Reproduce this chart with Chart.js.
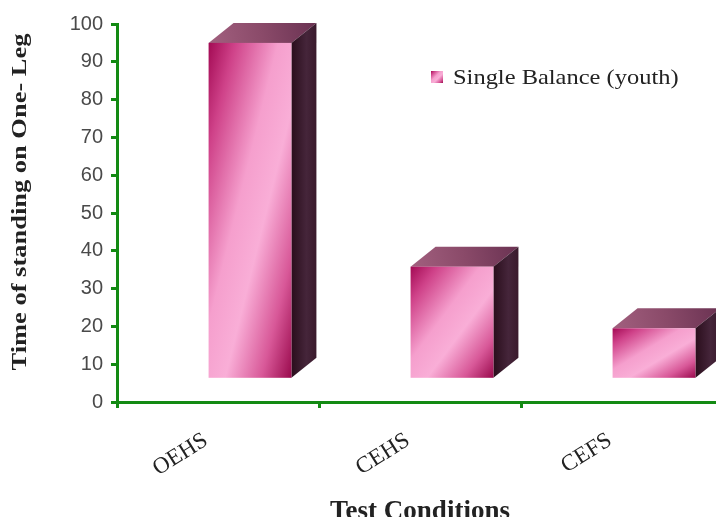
<!DOCTYPE html>
<html>
<head>
<meta charset="utf-8">
<script src="https://cdn.jsdelivr.net/npm/chart.js@4.4.0/dist/chart.umd.min.js"></script>
<style>
  html, body { margin: 0; padding: 0; background: #fff; overflow: hidden; }
  #wrap { width: 716px; height: 517px; overflow: hidden; position: relative; }
  #chart { position: absolute; left: 0; top: 0; }
</style>
</head>
<body>
<div id="wrap"><canvas id="chart" width="740" height="528"></canvas></div>
<script>
// test conditions and one-leg standing time
const conditions = ['OEHS', 'CEHS', 'CEFS'];
const standingTime = [95, 35.8, 19.5];
const seriesName = 'Single Balance (youth)';
const yTickValues = [0, 10, 20, 30, 40, 50, 60, 70, 80, 90, 100];
const yTitle = 'Time of standing on One- Leg';

// bars sit on a raised floor (3d look)
const floorLevel = 6.4;

const axisGreen = '#138a13';
const serif = '"Liberation Serif", "Times New Roman", serif';
const DEPTH_X = 25;
const DEPTH_Y = 20;
const FRONT_SHIFT = 32;

function frontGradient(ctx) {
  const g = ctx.createLinearGradient(0, 0, 1, 1);
  g.addColorStop(0, '#a30a54');
  g.addColorStop(0.16, '#cf4289');
  g.addColorStop(0.42, '#f59fcd');
  g.addColorStop(0.6, '#f9aed7');
  g.addColorStop(0.82, '#d85898');
  g.addColorStop(1, '#9a0a4d');
  return g;
}

// text drawn slightly widened, like the old office-style fonts
function wideText(ctx, text, x, y, font, stretch, angle, align) {
  ctx.save();
  ctx.translate(x, y);
  ctx.rotate(angle);
  ctx.scale(stretch, 1);
  ctx.font = font;
  ctx.fillStyle = '#222';
  ctx.textAlign = align;
  ctx.textBaseline = 'middle';
  ctx.fillText(text, 0, 0);
  ctx.restore();
}

// draws each bar as a block: front face, top and right side
const blocks3d = {
  id: 'blocks3d',
  afterDatasetsDraw(chart) {
    const ctx = chart.ctx;
    chart.getDatasetMeta(0).data.forEach(bar => {
      const { x, y, base, width } = bar.getProps(['x', 'y', 'base', 'width'], true);
      const left = x - width / 2 + FRONT_SHIFT;
      const right = left + width;
      const h = base - y;
      ctx.save();

      // top face
      let g = ctx.createLinearGradient(left, y, right + DEPTH_X, y - DEPTH_Y);
      g.addColorStop(0, '#a2607f');
      g.addColorStop(0.5, '#8a4a69');
      g.addColorStop(1, '#6a3252');
      ctx.fillStyle = g;
      ctx.beginPath();
      ctx.moveTo(left, y);
      ctx.lineTo(left + DEPTH_X, y - DEPTH_Y);
      ctx.lineTo(right + DEPTH_X, y - DEPTH_Y);
      ctx.lineTo(right, y);
      ctx.closePath();
      ctx.fill();

      // side face
      g = ctx.createLinearGradient(right, 0, right + DEPTH_X, 0);
      g.addColorStop(0, '#2a0e1c');
      g.addColorStop(0.6, '#45253a');
      g.addColorStop(1, '#3a1a2c');
      ctx.fillStyle = g;
      ctx.beginPath();
      ctx.moveTo(right, y);
      ctx.lineTo(right + DEPTH_X, y - DEPTH_Y);
      ctx.lineTo(right + DEPTH_X, base - DEPTH_Y);
      ctx.lineTo(right, base);
      ctx.closePath();
      ctx.fill();

      // front face, diagonal shading across the face
      ctx.translate(left, y);
      ctx.scale(width, h);
      ctx.fillStyle = frontGradient(ctx);
      ctx.fillRect(0, 0, 1, 1);
      ctx.restore();
    });

    // legend entry
    const lx = 431, ly = 71, sz = 12;
    ctx.save();
    ctx.translate(lx, ly);
    ctx.scale(sz, sz);
    ctx.fillStyle = frontGradient(ctx);
    ctx.fillRect(0, 0, 1, 1);
    ctx.restore();
    wideText(ctx, chart.data.datasets[0].label, 453, ly + sz / 2 + 1,
      '21px ' + serif, 1.165, 0, 'left');

    // value axis title, centred a little above the middle of the axis
    const ys = chart.scales.y;
    wideText(ctx, yTitle, 21, (ys.top + ys.bottom) / 2 - 11,
      'bold 21px ' + serif, 1.26, -Math.PI / 2, 'center');
  }
};

new Chart(document.getElementById('chart'), {
  type: 'bar',
  data: {
    labels: conditions,
    datasets: [{
      label: seriesName,
      data: standingTime,
      base: floorLevel,
      backgroundColor: 'rgba(0,0,0,0)',
      borderWidth: 0,
      categoryPercentage: 1,
      barPercentage: 0.41
    }]
  },
  options: {
    responsive: false,
    animation: false,
    layout: { padding: { top: 24, right: 17, left: 0, bottom: 0 } },
    plugins: {
      legend: { display: false },
      tooltip: { enabled: false }
    },
    scales: {
      x: {
        afterFit: scale => { scale.height = 126; },
        grid: {
          drawOnChartArea: false,
          tickLength: 6,
          tickWidth: 3,
          tickColor: axisGreen
        },
        border: { color: axisGreen, width: 3 },
        ticks: {
          minRotation: 32,
          maxRotation: 32,
          color: '#222',
          padding: 19,
          labelOffset: -12,
          font: { family: serif, size: 23 }
        },
        title: {
          display: true,
          text: 'Test Conditions',
          color: '#222',
          padding: { top: 0, bottom: 0 },
          font: { family: serif, size: 27, weight: 'bold' }
        }
      },
      y: {
        min: 0,
        max: 100,
        afterFit: scale => { scale.width = 117; },
        afterBuildTicks: scale => { scale.ticks = yTickValues.map(v => ({ value: v })); },
        grid: {
          drawOnChartArea: false,
          tickLength: 6,
          tickWidth: 3,
          tickColor: axisGreen
        },
        border: { color: axisGreen, width: 3 },
        ticks: {
          color: '#4a4a4a',
          padding: 8,
          font: { family: '"Liberation Sans", Arial, sans-serif', size: 20 }
        }
      }
    }
  },
  plugins: [blocks3d]
});
</script>
</body>
</html>
